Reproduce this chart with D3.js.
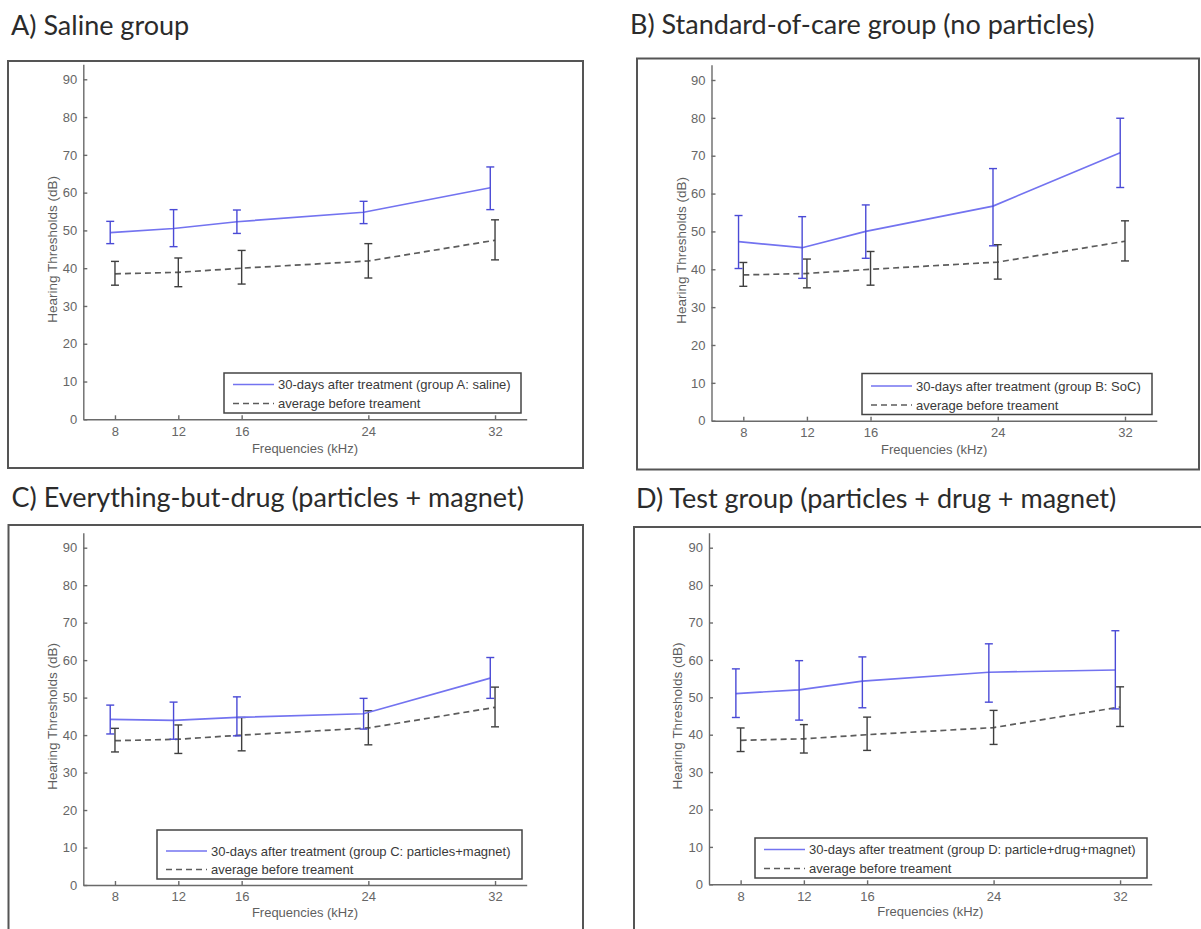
<!DOCTYPE html>
<html>
<head>
<meta charset="utf-8">
<script src="https://cdn.jsdelivr.net/npm/d3@7/dist/d3.min.js"></script>
<style>
  body { margin: 0; background: #fff; }
  svg { display: block; }
  .title { font-family: Lato, "Open Sans", sans-serif; fill: #2b2b2b; }
  .axis text { font-family: "Liberation Sans", Arial, sans-serif; font-size: 13px; fill: #666; }
  .axis path, .axis line { stroke: #6a6a6a; stroke-width: 1.4; }
  .axis-label { font-family: "Liberation Sans", Arial, sans-serif; fill: #5f5f5f; }
  .legend-text { font-family: "Liberation Sans", Arial, sans-serif; font-size: 13px; fill: #3a3a3a; }
</style>
</head>
<body>
<svg id="chart" width="1201" height="929"></svg>
<script>
// ===================================================================
// DATA
// ===================================================================
const freqs = [8, 12, 16, 24, 32];
const yTicks = [0, 10, 20, 30, 40, 50, 60, 70, 80, 90];

// average before treatment (same in every panel)
const baselineMean = [38.5, 38.9, 40.0, 41.9, 47.4];
const baselineLow  = [35.5, 35.1, 35.8, 37.4, 42.2];
const baselineHigh = [41.8, 42.7, 44.7, 46.5, 52.8];

// 30 days after treatment, per group
const groupAMean = [49.4, 50.5, 52.3, 54.8, 61.3];
const groupALow  = [46.5, 45.7, 49.2, 51.8, 55.5];
const groupAHigh = [52.4, 55.5, 55.4, 57.7, 66.8];

const groupBMean = [47.3, 45.7, 50.0, 56.7, 70.8];
const groupBLow  = [40.2, 37.6, 42.9, 46.2, 61.6];
const groupBHigh = [54.2, 53.9, 57.0, 66.6, 79.9];

const groupCMean = [44.2, 43.9, 44.7, 45.7, 55.2];
const groupCLow  = [40.3, 38.9, 39.8, 41.6, 49.8];
const groupCHigh = [48.0, 48.8, 50.2, 49.8, 60.7];

const groupDMean = [51.0, 52.0, 54.3, 56.7, 57.3];
const groupDLow  = [44.6, 43.9, 47.2, 48.7, 46.9];
const groupDHigh = [57.6, 59.8, 60.8, 64.3, 67.8];

const panelTitles = [
    'A) Saline group',
    'B) Standard-of-care group (no particles)',
    'C) Everything-but-drug (particles + magnet)',
    'D) Test group (particles + drug + magnet)'
];
const groupLabels = [
    '30-days after treatment (group A: saline)',
    '30-days after treatment (group B: SoC)',
    '30-days after treatment (group C: particles+magnet)',
    '30-days after treatment (group D: particle+drug+magnet)'
];
const baselineLabel = 'average before treament';
// ===================================================================

// Layout of the four panels (pixels)
const layout = [
    { frame: [8, 61, 575, 407], title: [11, 35], x: [83.3, 526.7], y: [419.3, 79.3],
      legend: [224, 373, 297, 40, 11.5, 30.5], yLabelX: 52, xLabelY: 453 },
    { frame: [637, 58.5, 562, 411], title: [630, 34], x: [711.5, 1156.8], y: [420.7, 80],
      legend: [862, 373.5, 290, 41, 12.5, 31.5], yLabelX: 681, xLabelY: 454 },
    { frame: [8.5, 525, 574.5, 440], title: [11.5, 507], x: [83.3, 526.7], y: [885, 547.7],
      legend: [157, 830, 365, 49, 21, 39.5], yLabelX: 52, xLabelY: 917 },
    { frame: [634, 527, 580, 440], title: [636, 508], x: [709, 1151.7], y: [884.3, 547.7],
      legend: [755, 838, 392, 40, 11.5, 30.5], yLabelX: 677, xLabelY: 916 }
];

const groups = [
    [groupAMean, groupALow, groupAHigh],
    [groupBMean, groupBLow, groupBHigh],
    [groupCMean, groupCLow, groupCHigh],
    [groupDMean, groupDLow, groupDHigh]
];

const blue = '#7373f0';
const blueBar = '#4a4ad6';
const grey = '#5c5c5c';
const greyBar = '#3f3f3f';
const groupOffset = -0.3; // after-treatment points sit slightly left of each tick

const svg = d3.select('#chart');
svg.append('rect').attr('width', 1201).attr('height', 929).attr('fill', '#fff');

function toRows(mean, low, high, shift) {
    return freqs.map((f, i) => ({ f: f + shift, m: mean[i], lo: low[i], hi: high[i] }));
}

layout.forEach((L, p) => {
    const g = svg.append('g');

    // Frame
    g.append('rect')
        .attr('x', L.frame[0]).attr('y', L.frame[1])
        .attr('width', L.frame[2]).attr('height', L.frame[3])
        .attr('fill', 'none').attr('stroke', '#555').attr('stroke-width', 2);

    // Title
    g.append('text')
        .attr('class', 'title')
        .attr('x', L.title[0]).attr('y', L.title[1])
        .attr('font-size', 27)
        .text(panelTitles[p]);

    // Scales: x from 6 to 34 kHz, y from 0 to 94 dB
    const xScale = d3.scaleLinear().domain([6, 34]).range(L.x);
    const ppd = (L.y[0] - L.y[1]) / 90;
    const yScale = d3.scaleLinear().domain([0, 94]).range([L.y[0], L.y[0] - 94 * ppd]);

    // Axes (inward ticks, MATLAB style)
    g.append('g')
        .attr('class', 'axis')
        .attr('transform', `translate(${xScale(6)},0)`)
        .call(d3.axisLeft(yScale).tickValues(yTicks).tickSizeInner(-4).tickSizeOuter(0).tickPadding(6));

    g.append('g')
        .attr('class', 'axis')
        .attr('transform', `translate(0,${yScale(0)})`)
        .call(d3.axisBottom(xScale).tickValues(freqs).tickSizeInner(-4).tickSizeOuter(0).tickPadding(7));

    // Axis labels
    g.append('text')
        .attr('class', 'axis-label')
        .attr('font-size', 13.5)
        .attr('transform', `translate(${L.yLabelX},${yScale(45)}) rotate(-90)`)
        .attr('text-anchor', 'middle')
        .attr('dy', '0.35em')
        .text('Hearing Thresholds (dB)');

    g.append('text')
        .attr('class', 'axis-label')
        .attr('font-size', 13)
        .attr('x', xScale(20))
        .attr('y', L.xLabelY)
        .attr('text-anchor', 'middle')
        .text('Frequencies (kHz)');

    // Series
    const line = d3.line().x(d => xScale(d.f)).y(d => yScale(d.m));
    const series = [
        { rows: toRows(baselineMean, baselineLow, baselineHigh, 0), stroke: grey, bar: greyBar, dash: '6,4' },
        { rows: toRows(groups[p][0], groups[p][1], groups[p][2], groupOffset), stroke: blue, bar: blueBar, dash: null }
    ];

    series.forEach(s => {
        g.append('path')
            .datum(s.rows)
            .attr('d', line)
            .attr('fill', 'none')
            .attr('stroke', s.stroke)
            .attr('stroke-width', 1.7)
            .attr('stroke-dasharray', s.dash);

        const bars = g.append('g').attr('stroke', s.bar).attr('stroke-width', 1.4);
        s.rows.forEach(d => {
            const cx = xScale(d.f);
            bars.append('line').attr('x1', cx).attr('x2', cx).attr('y1', yScale(d.lo)).attr('y2', yScale(d.hi));
            bars.append('line').attr('x1', cx - 4).attr('x2', cx + 4).attr('y1', yScale(d.lo)).attr('y2', yScale(d.lo));
            bars.append('line').attr('x1', cx - 4).attr('x2', cx + 4).attr('y1', yScale(d.hi)).attr('y2', yScale(d.hi));
        });
    });

    // Legend
    const [lx, ly, lw, lh, r1, r2] = L.legend;
    const lg = g.append('g').attr('transform', `translate(${lx},${ly})`);
    lg.append('rect')
        .attr('width', lw).attr('height', lh)
        .attr('fill', '#fff').attr('stroke', '#444').attr('stroke-width', 1.5);
    [[r1, blue, null, groupLabels[p]], [r2, grey, '6,4', baselineLabel]].forEach(([ry, col, dash, label]) => {
        lg.append('line')
            .attr('x1', 9).attr('x2', 50).attr('y1', ry).attr('y2', ry)
            .attr('stroke', col).attr('stroke-width', 1.5).attr('stroke-dasharray', dash);
        lg.append('text')
            .attr('class', 'legend-text')
            .attr('x', 54).attr('y', ry).attr('dy', '0.35em')
            .text(label);
    });
});
</script>
</body>
</html>
